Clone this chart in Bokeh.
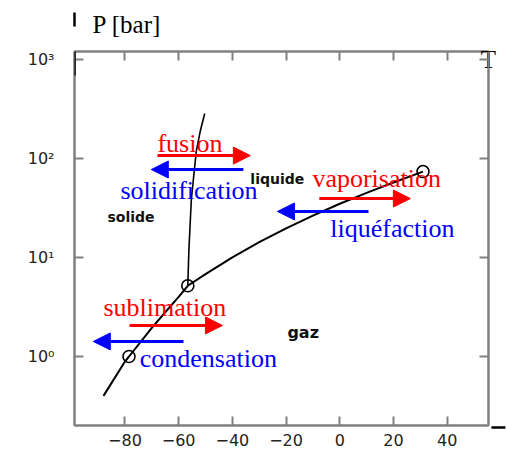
from bokeh.plotting import figure
from bokeh.models import (Range1d, FixedTicker, LinearAxis, LogAxis, Arrow, NormalHead,
                          ColumnDataSource)
from bokeh.core.properties import value
from bokeh.embed import file_html
from bokeh.resources import INLINE

# ---- data (CO2 phase diagram) ----
sub_T = [-88.0, -80.0, -78.5, -70.0, -65.0, -60.0, -56.6]
sub_P = [0.40, 0.89, 1.0, 1.95, 2.8, 4.0, 5.18]

vap_T = [-56.6, -50.0, -40.0, -30.0, -20.0, -10.0, 0.0, 10.0, 20.0, 31.0]
vap_P = [5.18, 6.8, 10.05, 14.3, 19.7, 26.5, 34.9, 45.0, 57.3, 73.8]

fus_T = [-56.6, -56.2, -55.3, -54.2, -53.4, -51.9, -50.3]
fus_P = [5.18, 11.8, 37.7, 75.0, 120.0, 192.0, 285.0]

pts_T = [-78.5, -56.6, 31.0]
pts_P = [1.0, 5.18, 73.8]

x_ticks = [-80, -60, -40, -20, 0, 20, 40]
x_tick_labels = ["\u221280", "\u221260", "\u221240", "\u221220", "0", "20", "40"]
y_ticks = [1, 10, 100, 1000]
y_tick_labels = ["10\u2070", "10\u00b9", "10\u00b2", "10\u00b3"]

# process labels and arrows
proc_names = ["fusion", "solidification", "vaporisation", "liquéfaction", "sublimation", "condensation"]
proc_colors = ["#ff0000", "#0000ff", "#ff0000", "#0000ff", "#ff0000", "#0000ff"]
proc_text_T = [-67.9, -81.7, -10.2, -3.5, -88.0, -74.5]
proc_text_P = [115.8, 38.5, 51.3, 15.9, 2.55, 0.78]
arrow_T0 = [-67.9, -35.9, -7.6, 10.7, -78.3, -58.2]
arrow_T1 = [-33.3, -70.2, 26.3, -23.2, -43.7, -91.8]
arrow_P = [107.0, 77.4, 39.4, 29.2, 2.06, 1.42]

region_names = ["solide", "liquide", "gaz"]
region_T = [-86.5, -33.3, -19.5]
region_P = [23.1, 55.9, 1.57]
region_sizes = ["14px", "14px", "16px"]

p = figure(width=506, height=460, output_backend="svg", toolbar_location=None,
           y_axis_type="log",
           x_range=Range1d(-98.8, 55.4), y_range=Range1d(10 ** -0.697, 10 ** 3.081),
           min_border_left=74, min_border_right=18, min_border_top=51, min_border_bottom=35)
p.grid.visible = False
p.outline_line_color = "#808080"
p.outline_line_width = 2
p.background_fill_color = None
p.border_fill_color = None

# y-axis title as the plot title (top left, beside the axis arrow)
p.title.text = "P [bar]"
p.title.align = "left"
p.title.offset = 18
p.title.standoff = 10
p.title.text_font = "Liberation Serif"
p.title.text_font_size = "25px"
p.title.text_font_style = "normal"
p.title.text_color = "black"

def style_axis(ax, ticks, labels, show_labels, standoff):
    ax.ticker = FixedTicker(ticks=ticks)
    ax.axis_line_color = "#808080"
    ax.axis_line_width = 2
    ax.major_tick_line_color = "#808080"
    ax.major_tick_line_width = 2
    ax.major_tick_in = 9
    ax.major_tick_out = 0
    ax.minor_tick_line_color = None
    if show_labels:
        ax.major_label_overrides = {t: l for t, l in zip(ticks, labels)}
        ax.major_label_text_font = "DejaVu Sans"
        ax.major_label_text_font_size = "16px"
        ax.major_label_text_color = "#222222"
        ax.major_label_standoff = standoff
    else:
        ax.major_label_text_font_size = "1px"
        ax.major_label_text_color = None
        ax.major_label_standoff = 0

style_axis(p.xaxis[0], x_ticks, x_tick_labels, True, 8)
style_axis(p.yaxis[0], y_ticks, y_tick_labels, True, 20)
top = LinearAxis()
style_axis(top, x_ticks, x_tick_labels, False, 0)
p.add_layout(top, "above")
right = LogAxis()
style_axis(right, y_ticks, y_tick_labels, False, 0)
p.add_layout(right, "right")

# x-axis title "T" at the bottom right
xa = p.xaxis[0]
try:
    xa.axis_label_align = "end"
    xa.axis_label_standoff = -21
    xa.axis_label_text_font = "Liberation Serif"
    xa.axis_label_text_font_size = "25px"
    xa.axis_label_text_font_style = "normal"
    xa.axis_label_text_color = "black"
    xa.axis_label = "T"
except Exception:
    pass

# axis arrows
p.add_layout(Arrow(x_start=-98.8, y_start=10 ** 2.838, x_end=-98.8, y_end=10 ** 3.475,
                   line_color="black", line_width=2.5,
                   end=NormalHead(size=14, fill_color="black", line_color="black")))
p.add_layout(Arrow(x_start=50.5, y_start=10 ** -0.717, x_end=61.7, y_end=10 ** -0.717,
                   line_color="black", line_width=2.5,
                   end=NormalHead(size=14, fill_color="black", line_color="black")))

# curves
p.line(sub_T, sub_P, line_color="black", line_width=2)
p.line(vap_T, vap_P, line_color="black", line_width=2)
p.line(fus_T, fus_P, line_color="black", line_width=1.6)
p.scatter(pts_T, pts_P, marker="circle", size=12, fill_color=None, line_color="black", line_width=1.6)

# process arrows
for t0, t1, pp, c in zip(arrow_T0, arrow_T1, arrow_P, proc_colors):
    p.add_layout(Arrow(x_start=t0, y_start=pp, x_end=t1, y_end=pp, line_color=c, line_width=3,
                       end=NormalHead(size=17, fill_color=c, line_color=c, line_width=1)))

# process texts
src = ColumnDataSource(dict(x=proc_text_T, y=proc_text_P, text=proc_names, color=proc_colors))
p.text(x="x", y="y", text="text", text_color="color", source=src,
       text_font=value("Liberation Serif"), text_font_size="26px",
       text_align="left", text_baseline="alphabetic", y_offset=-9)

# region texts
src2 = ColumnDataSource(dict(x=region_T, y=region_P, text=region_names, size=region_sizes))
p.text(x="x", y="y", text="text", source=src2, text_color="#111111",
       text_font=value("DejaVu Sans"), text_font_size="size", text_font_style="bold",
       text_align="left", text_baseline="alphabetic", y_offset=-5)

open("out.html", "w").write(file_html(p, INLINE))
